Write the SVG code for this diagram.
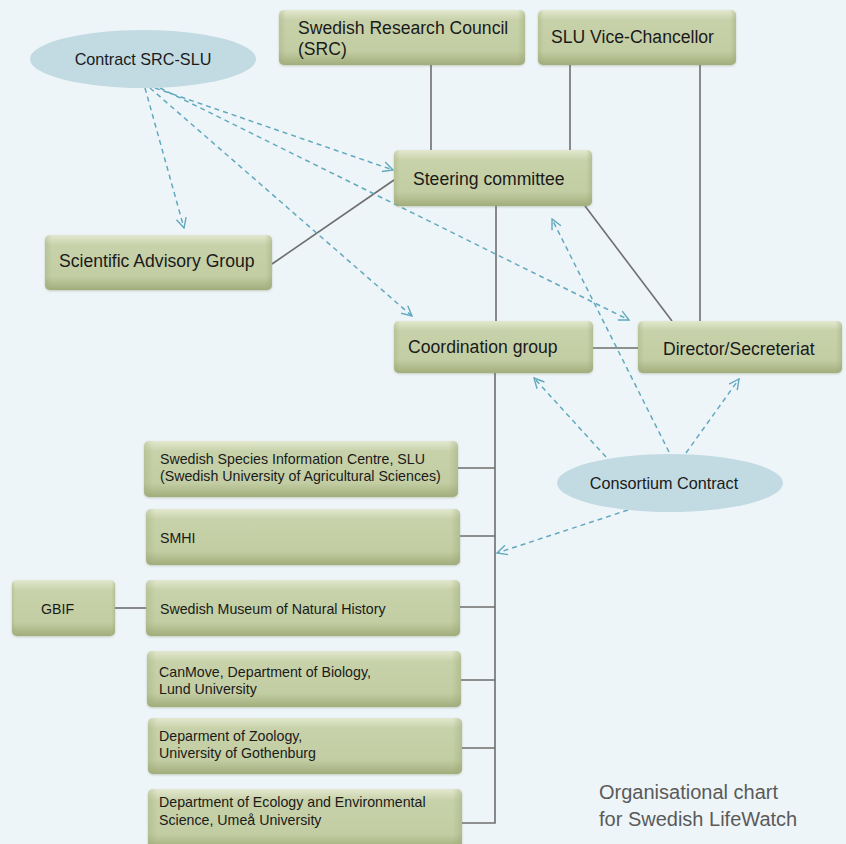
<svg xmlns="http://www.w3.org/2000/svg" width="846" height="844" viewBox="0 0 846 844">
<defs>
<linearGradient id="gv" x1="0" y1="0" x2="0" y2="1">
<stop offset="0" stop-color="#e3e8cf"/>
<stop offset="0.18" stop-color="#c8d2aa"/>
<stop offset="0.75" stop-color="#c3cda3"/>
<stop offset="1" stop-color="#a2ad7c"/>
</linearGradient>
<linearGradient id="gh" x1="0" y1="0" x2="1" y2="0">
<stop offset="0" stop-color="#9aa674" stop-opacity="0.35"/>
<stop offset="0.03" stop-color="#9aa674" stop-opacity="0"/>
<stop offset="0.97" stop-color="#9aa674" stop-opacity="0"/>
<stop offset="1" stop-color="#9aa674" stop-opacity="0.45"/>
</linearGradient>
<filter id="sh" x="-5%" y="-10%" width="110%" height="130%">
<feDropShadow dx="0" dy="1" stdDeviation="1" flood-color="#6d7a55" flood-opacity="0.35"/>
</filter>
<marker id="ah" viewBox="0 0 12 12" refX="11" refY="6" markerWidth="12" markerHeight="12" markerUnits="userSpaceOnUse" orient="auto">
<path d="M1,1 L11,6 L1,11" fill="none" stroke="#62a9bf" stroke-width="1.4"/>
</marker>
</defs>
<style>
.box{fill:url(#gv);filter:url(#sh)}
.edge{fill:url(#gh)}
.ell{fill:#c2dbe3}
.t{font-family:"Liberation Sans",Arial,sans-serif;fill:#1a1a1a}
.big{font-size:17.6px}
.mid{font-size:16.2px}
.sm{font-size:14.2px}
.ln{stroke:#6e6e6e;stroke-width:1.6;fill:none}
.da{stroke:#62a9bf;stroke-width:1.5;stroke-dasharray:5,4;fill:none;marker-end:url(#ah)}
.foot{font-family:"Liberation Sans",Arial,sans-serif;font-size:20px;fill:#5a5a5a}
</style>
<rect width="846" height="844" fill="#eef5f8"/>

<g id="connectors">
<line class="ln" x1="431" y1="65" x2="431" y2="150"/>
<line class="ln" x1="570" y1="65" x2="570" y2="150"/>
<line class="ln" x1="700" y1="65" x2="700" y2="321"/>
<line class="ln" x1="394" y1="180" x2="272" y2="264"/>
<line class="ln" x1="585" y1="206" x2="672" y2="321"/>
<line class="ln" x1="496" y1="206" x2="496" y2="321"/>
<line class="ln" x1="593" y1="348" x2="638" y2="348"/>
<polyline class="ln" points="495,373 495,823 462,823"/>
<line class="ln" x1="458" y1="468" x2="495" y2="468"/>
<line class="ln" x1="460" y1="536" x2="495" y2="536"/>
<line class="ln" x1="460" y1="607" x2="495" y2="607"/>
<line class="ln" x1="461" y1="680" x2="495" y2="680"/>
<line class="ln" x1="462" y1="748" x2="495" y2="748"/>
<line class="ln" x1="115" y1="608" x2="146" y2="608"/>
<line class="da" x1="145" y1="88" x2="184" y2="228"/>
<line class="da" x1="155" y1="88" x2="393" y2="170"/>
<line class="da" x1="150" y1="88" x2="412" y2="316"/>
<line class="da" x1="160" y1="88" x2="629" y2="320"/>
<line class="da" x1="606" y1="457" x2="534" y2="378"/>
<line class="da" x1="669" y1="452" x2="552" y2="219"/>
<line class="da" x1="686" y1="453" x2="739" y2="379"/>
<line class="da" x1="628" y1="510" x2="497" y2="553"/>
</g>

<g id="src">
<rect class="box" x="279" y="10" width="246" height="55" rx="5"/>
<rect class="edge" x="279" y="10" width="246" height="55" rx="5"/>
<text class="t big" x="298" y="34">Swedish Research Council</text>
<text class="t big" x="298" y="55">(SRC)</text>
</g>
<g id="slu-vc">
<rect class="box" x="538" y="10" width="198" height="55" rx="5"/>
<rect class="edge" x="538" y="10" width="198" height="55" rx="5"/>
<text class="t big" x="551" y="43">SLU Vice-Chancellor</text>
</g>
<g id="contract-src-slu">
<ellipse class="ell" cx="143" cy="59" rx="113" ry="29"/>
<text class="t mid" x="143" y="65" text-anchor="middle">Contract SRC-SLU</text>
</g>
<g id="steering">
<rect class="box" x="394" y="150" width="198" height="56" rx="5"/>
<rect class="edge" x="394" y="150" width="198" height="56" rx="5"/>
<text class="t big" x="413" y="185">Steering committee</text>
</g>
<g id="sag">
<rect class="box" x="45" y="235" width="227" height="55" rx="5"/>
<rect class="edge" x="45" y="235" width="227" height="55" rx="5"/>
<text class="t big" x="59" y="267">Scientific Advisory Group</text>
</g>
<g id="coordination">
<rect class="box" x="394" y="321" width="199" height="52" rx="5"/>
<rect class="edge" x="394" y="321" width="199" height="52" rx="5"/>
<text class="t big" x="408" y="353">Coordination group</text>
</g>
<g id="director">
<rect class="box" x="638" y="321" width="204" height="52" rx="5"/>
<rect class="edge" x="638" y="321" width="204" height="52" rx="5"/>
<text class="t big" x="663" y="355">Director/Secreteriat</text>
</g>
<g id="consortium">
<ellipse class="ell" cx="670" cy="483" rx="113" ry="29"/>
<text class="t mid" x="664" y="489" text-anchor="middle">Consortium Contract</text>
</g>
<g id="species">
<rect class="box" x="144" y="441" width="314" height="56" rx="5"/>
<rect class="edge" x="144" y="441" width="314" height="56" rx="5"/>
<text class="t sm" x="160" y="464">Swedish Species Information Centre, SLU</text>
<text class="t sm" x="160" y="481">(Swedish University of Agricultural Sciences)</text>
</g>
<g id="smhi">
<rect class="box" x="146" y="509" width="314" height="56" rx="5"/>
<rect class="edge" x="146" y="509" width="314" height="56" rx="5"/>
<text class="t sm" x="160" y="543">SMHI</text>
</g>
<g id="gbif">
<rect class="box" x="12" y="580" width="103" height="56" rx="5"/>
<rect class="edge" x="12" y="580" width="103" height="56" rx="5"/>
<text class="t sm" x="41" y="614">GBIF</text>
</g>
<g id="museum">
<rect class="box" x="146" y="580" width="314" height="56" rx="5"/>
<rect class="edge" x="146" y="580" width="314" height="56" rx="5"/>
<text class="t sm" x="160" y="614">Swedish Museum of Natural History</text>
</g>
<g id="canmove">
<rect class="box" x="147" y="651" width="314" height="56" rx="5"/>
<rect class="edge" x="147" y="651" width="314" height="56" rx="5"/>
<text class="t sm" x="159" y="677">CanMove, Department of Biology,</text>
<text class="t sm" x="159" y="694">Lund University</text>
</g>
<g id="zoology">
<rect class="box" x="148" y="718" width="314" height="56" rx="5"/>
<rect class="edge" x="148" y="718" width="314" height="56" rx="5"/>
<text class="t sm" x="159" y="741">Deparment of Zoology,</text>
<text class="t sm" x="159" y="758">University of Gothenburg</text>
</g>
<g id="ecology">
<rect class="box" x="148" y="789" width="314" height="60" rx="5"/>
<rect class="edge" x="148" y="789" width="314" height="60" rx="5"/>
<text class="t sm" x="159" y="807">Department of Ecology and Environmental</text>
<text class="t sm" x="159" y="825">Science, Umeå University</text>
</g>
<g id="caption">
<text class="foot" x="599" y="799">Organisational chart</text>
<text class="foot" x="599" y="826">for Swedish LifeWatch</text>
</g>
</svg>
